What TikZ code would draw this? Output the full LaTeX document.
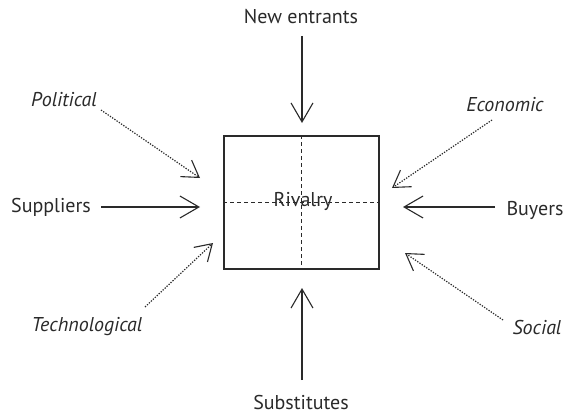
\documentclass[tikz,border=0pt]{standalone}
\usepackage{fontspec}
\setmainfont{PT Sans}
\usetikzlibrary{arrows.meta}
\definecolor{ink}{HTML}{2A2A2A}
\tikzset{
  lbl/.style={font=\fontsize{20}{22}\selectfont, text=ink, inner sep=0pt},
  ilbl/.style={lbl, font=\fontsize{20}{22}\selectfont\itshape},
  force/.style={draw=ink, line width=1.1pt, -{Straight Barb[length=19pt,width=22pt,line width=1.1pt]}},
  trend/.style={draw=ink, line width=1.2pt, dash pattern=on 1.3pt off 1.4pt,
    -{Straight Barb[length=16pt,width=20pt,line width=1.1pt,sep=0pt]}},
  grid/.style={draw=ink, line width=1.2pt, dash pattern=on 4pt off 3pt},
}
\begin{document}
\begin{tikzpicture}[x=1pt,y=-1pt]
\useasboundingbox (0,0) rectangle (572,417);
% the central box, split into quarters
\node[draw=ink, line width=1.1pt, minimum width=155pt, minimum height=133pt, inner sep=0pt] (box) at (301.5,202.5) {};
\draw[grid] (box.north) -- (box.south);
\draw[grid] (box.west) -- (box.east);
\node[lbl] (riv) at (303,201) {Rivalry};
% the five forces
\node[lbl] (new) at (301,17) {New entrants};
\node[lbl] (sub) at (301,402) {Substitutes};
\node[lbl] (sup) at (51,207) {Suppliers};
\node[lbl] (buy) at (535,210) {Buyers};
\coordinate (newA) at (302,36);  \coordinate (newB) at (302,123);
\coordinate (subA) at (302,380); \coordinate (subB) at (302,288);
\coordinate (supA) at (101,207); \coordinate (supB) at (200,207);
\coordinate (buyA) at (495,207); \coordinate (buyB) at (403,207);
\draw[force] (newA) -- (newB);
\draw[force] (subA) -- (subB);
\draw[force] (supA) -- (supB);
\draw[force] (buyA) -- (buyB);
% the PEST factors
\node[ilbl] (pol) at (64,100) {Political};
\node[ilbl] (eco) at (505,105) {Economic};
\node[ilbl] (tec) at (87,327) {Technological};
\node[ilbl] (soc) at (537,327) {Social};
\coordinate (polA) at (101,110); \coordinate (polB) at (200,178);
\coordinate (ecoA) at (492,120); \coordinate (ecoB) at (392,188);
\coordinate (tecA) at (145,307); \coordinate (tecB) at (213,243);
\coordinate (socA) at (503,320); \coordinate (socB) at (405,253);
\draw[trend] (polA) -- (polB);
\draw[trend] (ecoA) -- (ecoB);
\draw[trend] (tecA) -- (tecB);
\draw[trend] (socA) -- (socB);
\end{tikzpicture}
\end{document}
